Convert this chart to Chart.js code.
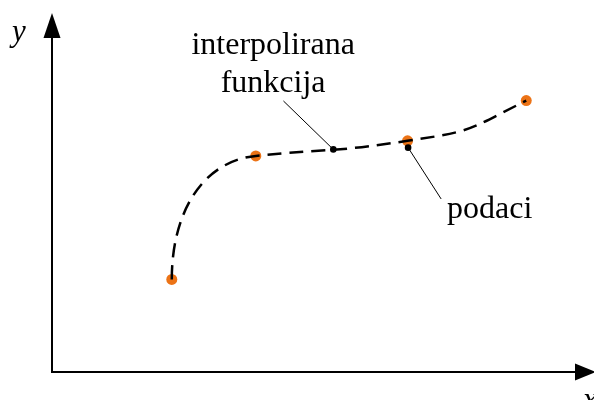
<!DOCTYPE html>
<html>
<head>
<meta charset="utf-8">
<script src="https://cdn.jsdelivr.net/npm/chart.js@4/dist/chart.umd.min.js"></script>
<style>
  html, body { margin: 0; padding: 0; background: #fff; }
  #wrap { width: 594px; height: 400px; }
</style>
</head>
<body>
<div id="wrap"><canvas id="chart" width="594" height="400"></canvas></div>
<script>
// data (both axes run 0..10, no ticks shown)
const dataX = [2.21, 3.76, 6.56, 8.75];
const dataY = [2.58, 6.02, 6.44, 7.56];

// the two spots the callouts point at
const calloutX = [5.19, 6.57];
const calloutY = [6.20, 6.25];
const calloutText = [['interpolirana', 'funkcija'], ['podaci']];

const axisTitles = ['x', 'y'];

const orange = '#EC7316';
const serif = '"Liberation Serif", "Times New Roman", serif';

// where the callout texts sit (axis units) and where their leader lines start
const callouts = [
  { tx: 4.08, ty: 8.86, align: 'center', lx: 4.27, ly: 7.55 },
  { tx: 7.29, ty: 4.29, align: 'left', lx: 7.18, ly: 4.82 }
];

// direction of the drawn curve at each data point (pixel space)
const tangentDirs = [[0, -1], [1, -0.1], [1, -0.15], [1, -0.5]];
const handleScale = 0.55;

const points = dataX.map((x, i) => ({ x: x, y: dataY[i] }));
const calloutPoints = calloutX.map((x, i) => ({ x: x, y: calloutY[i] }));

// reshape the bezier handles so the curve looks like the hand drawn one
const curveShape = {
  id: 'curveShape',
  beforeDatasetDraw(chart, args) {
    if (args.index !== 0) return;
    const line = args.meta.dataset;
    line.updateControlPoints(chart.chartArea, 'x');
    const pts = args.meta.data;
    pts.forEach((p, i) => {
      const n = Math.hypot(tangentDirs[i][0], tangentDirs[i][1]);
      const ux = tangentDirs[i][0] / n, uy = tangentDirs[i][1] / n;
      if (i > 0) {
        const q = pts[i - 1];
        const len = handleScale * Math.abs((p.x - q.x) * ux + (p.y - q.y) * uy);
        p.cp1x = p.x - ux * len;
        p.cp1y = p.y - uy * len;
      }
      if (i < pts.length - 1) {
        const q = pts[i + 1];
        const len = handleScale * Math.abs((q.x - p.x) * ux + (q.y - p.y) * uy);
        p.cp2x = p.x + ux * len;
        p.cp2y = p.y + uy * len;
      }
    });
  }
};

// axes with arrow heads, axis letters, callout lines and texts
const decorations = {
  id: 'decorations',
  beforeDatasetsDraw(chart) {
    const ctx = chart.ctx;
    const xs = chart.scales.x, ys = chart.scales.y;
    const ox = xs.getPixelForValue(0), oy = ys.getPixelForValue(0);
    const top = chart.chartArea.top, right = chart.chartArea.right + 2;

    ctx.save();
    ctx.strokeStyle = '#000';
    ctx.fillStyle = '#000';
    ctx.lineWidth = 2;
    ctx.beginPath();
    ctx.moveTo(ox, oy + 1);
    ctx.lineTo(ox, top + 20);
    ctx.moveTo(ox - 1, oy);
    ctx.lineTo(right - 20, oy);
    ctx.stroke();

    ctx.beginPath();
    ctx.moveTo(ox, top);
    ctx.lineTo(ox - 8.5, top + 25);
    ctx.lineTo(ox + 8.5, top + 25);
    ctx.closePath();
    ctx.fill();

    ctx.beginPath();
    ctx.moveTo(right, oy);
    ctx.lineTo(right - 21, oy - 8.5);
    ctx.lineTo(right - 21, oy + 8.5);
    ctx.closePath();
    ctx.fill();

    ctx.font = 'italic 31px ' + serif;
    ctx.textAlign = 'left';
    ctx.textBaseline = 'alphabetic';
    ctx.fillText(axisTitles[1], 12, 41);
    ctx.fillText(axisTitles[0], right - 13, oy + 37);

    // callouts
    ctx.lineWidth = 1;
    ctx.font = '32px ' + serif;
    callouts.forEach((c, i) => {
      ctx.beginPath();
      ctx.moveTo(xs.getPixelForValue(c.lx), ys.getPixelForValue(c.ly));
      ctx.lineTo(xs.getPixelForValue(calloutX[i]), ys.getPixelForValue(calloutY[i]));
      ctx.stroke();
      ctx.textAlign = c.align;
      const tx = xs.getPixelForValue(c.tx), ty = ys.getPixelForValue(c.ty);
      calloutText[i].forEach((t, k) => ctx.fillText(t, tx, ty + k * 38));
    });
    ctx.restore();
  }
};

new Chart(document.getElementById('chart'), {
  type: 'line',
  data: {
    datasets: [
      {
        data: points,
        borderColor: '#000',
        borderWidth: 2.5,
        borderDash: [14, 8],
        cubicInterpolationMode: 'monotone',
        pointRadius: 0,
        fill: false,
        order: 1
      },
      {
        data: points,
        showLine: false,
        pointRadius: 5.5,
        pointBackgroundColor: orange,
        pointBorderWidth: 0,
        order: 3
      },
      {
        data: calloutPoints,
        showLine: false,
        pointRadius: 3.3,
        pointBackgroundColor: '#000',
        pointBorderWidth: 0,
        order: 0
      }
    ]
  },
  options: {
    responsive: false,
    animation: false,
    events: [],
    layout: { autoPadding: false, padding: { left: 52, right: 0, top: 13, bottom: 28 } },
    scales: {
      x: { type: 'linear', min: 0, max: 10, display: false },
      y: { type: 'linear', min: 0, max: 10, display: false }
    },
    plugins: {
      legend: { display: false },
      tooltip: { enabled: false }
    }
  },
  plugins: [curveShape, decorations]
});
</script>
</body>
</html>
